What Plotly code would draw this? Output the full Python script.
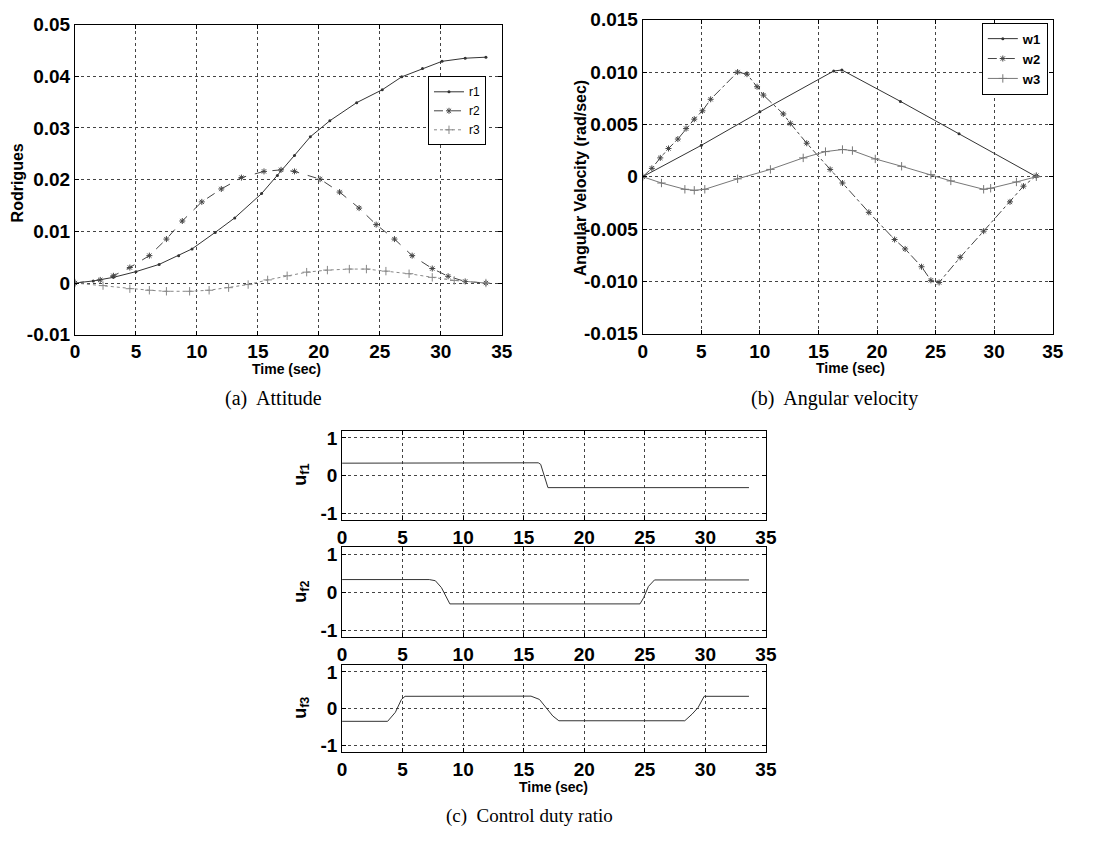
import plotly.graph_objects as go

W, H = 1115, 842

# ---------------- (a) Attitude: Rodrigues parameters ----------------
t_r1 = [0, 1.5, 3.15, 5.0, 6.9, 8.5, 9.6, 11.5, 13.1, 15.3, 16.6, 18.0, 19.3, 20.9,
        23.1, 25.2, 26.8, 28.5, 30.1, 32.0, 33.7]
r1 = [0, 0.0004, 0.0011, 0.0022, 0.0036, 0.0053, 0.0066, 0.0098, 0.0126, 0.0173,
      0.0208, 0.0247, 0.0283, 0.0314, 0.0349, 0.0374, 0.0399, 0.0415, 0.0429,
      0.0435, 0.0437]

t_r2 = [0, 2.07, 3.15, 4.5, 6.1, 7.5, 8.8, 10.4, 12.0, 13.65, 15.5, 16.9, 18.0,
        20.1, 21.7, 23.3, 24.7, 26.2, 27.65, 29.3, 30.6, 32.0, 33.7]
r2 = [0, 0.0006, 0.0014, 0.003, 0.0053, 0.0085, 0.012, 0.0157, 0.0182, 0.0204,
      0.0216, 0.0219, 0.0216, 0.0201, 0.0176, 0.0145, 0.0113, 0.0085, 0.0053,
      0.0028, 0.0013, 0.0003, 0]

t_r3 = [0, 2.3, 4.5, 6.1, 7.5, 9.4, 11.0, 12.6, 14.2, 15.8, 17.4, 19.0, 20.7, 22.5,
        23.9, 25.5, 27.4, 29.3, 31.1, 33.7]
r3 = [0, -0.0005, -0.0011, -0.0014, -0.0016, -0.0016, -0.0014, -0.0009, -0.0003,
      0.0006, 0.0014, 0.0021, 0.0025, 0.0027, 0.0027, 0.0023, 0.0018, 0.0011,
      0.0005, 0]

# ---------------- (b) Angular velocity ----------------
t_w1 = [0, 5.0, 10.0, 16.3, 17.0, 22.0, 27.0, 33.6]
w1 = [0, 0.0030, 0.0062, 0.0101, 0.0102, 0.0072, 0.0041, 0.0]

t_w2 = [0, 0.78, 1.5, 2.2, 3.0, 3.7, 4.4, 5.1, 5.8, 8.1, 8.9, 9.76, 10.3, 12.0,
        12.6, 14.0, 16.0, 17.05, 19.3, 21.5, 22.4, 23.8, 24.6, 25.3, 27.1, 29.1,
        31.35, 32.5, 33.6]
w2 = [0, 0.0008, 0.0018, 0.0027, 0.0036, 0.0046, 0.0055, 0.0063, 0.0074, 0.0100,
      0.0098, 0.0086, 0.0078, 0.0060, 0.0051, 0.0032, 0.0007, -0.0006, -0.0034,
      -0.0060, -0.0069, -0.0086, -0.0099, -0.0101, -0.0077, -0.0052, -0.0024,
      -0.0009, 0.0001]

t_w3 = [0, 1.6, 3.6, 4.4, 5.3, 8.1, 10.9, 13.7, 15.6, 17.05, 17.9, 19.85, 22.1,
        24.6, 26.3, 29.1, 29.7, 31.9, 33.6]
w3 = [0, -0.0006, -0.0012, -0.0013, -0.0012, -0.0002, 0.0007, 0.0018, 0.0024,
      0.0026, 0.0025, 0.0017, 0.0010, 0.0002, -0.0004, -0.0012, -0.0011, -0.0005, 0]

# ---------------- (c) Control duty ratio ----------------
t_uf1 = [0, 16.2, 16.4, 17.0, 33.6]
uf1 = [0.33, 0.34, 0.30, -0.32, -0.32]

t_uf2 = [0, 7.2, 7.7, 8.2, 8.9, 24.6, 24.9, 25.3, 25.8, 33.6]
uf2 = [0.33, 0.33, 0.30, 0.12, -0.31, -0.31, -0.15, 0.15, 0.32, 0.32]

t_uf3 = [0, 3.76, 4.4, 4.9, 5.2, 15.6, 16.3, 16.9, 17.4, 17.9, 28.3, 28.9, 29.4,
         29.9, 33.6]
uf3 = [-0.345, -0.345, -0.1, 0.25, 0.335, 0.34, 0.25, 0.0, -0.2, -0.33, -0.33,
       -0.15, 0.03, 0.335, 0.335]

x_ticks = [0, 5, 10, 15, 20, 25, 30, 35]
a_ticks = [-0.01, 0, 0.01, 0.02, 0.03, 0.04, 0.05]
a_text = ["-0.01", "0", "0.01", "0.02", "0.03", "0.04", "0.05"]
b_ticks = [-0.015, -0.010, -0.005, 0, 0.005, 0.010, 0.015]
b_text = ["-0.015", "-0.010", "-0.005", "0", "0.005", "0.010", "0.015"]
c_ticks = [-1, 0, 1]
c_text = ["-1", "0", "1"]


def px_x(x0, x1):
    return [x0 / W, x1 / W]


def px_y(top, bottom):
    return [1 - bottom / H, 1 - top / H]


SANS = "Liberation Sans, Arial, sans-serif"
SERIF = "Liberation Serif, Times New Roman, serif"


def axis_style(domain, rng, tickvals, ticktext=None, anchor=None):
    d = dict(
        domain=domain, range=rng, tickvals=tickvals,
        showline=True, linecolor="black", linewidth=1, mirror="ticks",
        ticks="inside", ticklen=4, tickcolor="black",
        showgrid=True, gridcolor="#444", griddash="dot", gridwidth=1,
        zeroline=False, anchor=anchor,
        tickfont=dict(family=SANS, size=19, color="black", weight="bold"),
    )
    if ticktext is not None:
        d["ticktext"] = ticktext
    return d


fig = go.Figure()

# (a)
fig.add_trace(go.Scatter(x=t_r1, y=r1, name="r1", mode="lines+markers",
                         line=dict(color="#333", width=1),
                         marker=dict(symbol="circle", size=3, color="#333"),
                         xaxis="x", yaxis="y", legend="legend"))
fig.add_trace(go.Scatter(x=t_r2, y=r2, name="r2", mode="lines+markers",
                         line=dict(color="#444", width=1, dash="dash"),
                         marker=dict(symbol="asterisk-open", size=5,
                                     line=dict(color="#222", width=1)),
                         xaxis="x", yaxis="y", legend="legend"))
fig.add_trace(go.Scatter(x=t_r3, y=r3, name="r3", mode="lines+markers",
                         line=dict(color="#888", width=1, dash="dot"),
                         marker=dict(symbol="cross-thin-open", size=6,
                                     line=dict(color="#777", width=1)),
                         xaxis="x", yaxis="y", legend="legend"))

# (b)
fig.add_trace(go.Scatter(x=t_w1, y=w1, name="w1", mode="lines+markers",
                         line=dict(color="#333", width=1),
                         marker=dict(symbol="circle", size=3, color="#333"),
                         xaxis="x2", yaxis="y2", legend="legend2"))
fig.add_trace(go.Scatter(x=t_w2, y=w2, name="w2", mode="lines+markers",
                         line=dict(color="#444", width=1, dash="dashdot"),
                         marker=dict(symbol="asterisk-open", size=5,
                                     line=dict(color="#222", width=1)),
                         xaxis="x2", yaxis="y2", legend="legend2"))
fig.add_trace(go.Scatter(x=t_w3, y=w3, name="w3", mode="lines+markers",
                         line=dict(color="#777", width=1),
                         marker=dict(symbol="cross-thin-open", size=6,
                                     line=dict(color="#666", width=1)),
                         xaxis="x2", yaxis="y2", legend="legend2"))

# (c)
for t, u, xa, ya in [(t_uf1, uf1, "x3", "y3"), (t_uf2, uf2, "x4", "y4"),
                     (t_uf3, uf3, "x5", "y5")]:
    fig.add_trace(go.Scatter(x=t, y=u, mode="lines", showlegend=False,
                             line=dict(color="#333", width=1),
                             xaxis=xa, yaxis=ya))

# panel boxes in pixels
A = dict(x=px_x(71, 504), y=px_y(15, 333))
B = dict(x=px_x(647, 1063), y=px_y(10, 332))
C1 = dict(x=px_x(342, 772), y=px_y(432, 523))
C2 = dict(x=px_x(342, 772), y=px_y(551, 643))
C3 = dict(x=px_x(342, 772), y=px_y(672, 761))

fig.update_layout(
    width=W, height=H, margin=dict(l=0, r=0, t=0, b=0),
    paper_bgcolor="white", plot_bgcolor="white",
    xaxis=axis_style(A["x"], [0, 35], x_ticks, anchor="y"),
    yaxis=axis_style(A["y"], [-0.01, 0.05], a_ticks, a_text, anchor="x"),
    xaxis2=axis_style(B["x"], [0, 35], x_ticks, anchor="y2"),
    yaxis2=axis_style(B["y"], [-0.015, 0.015], b_ticks, b_text, anchor="x2"),
    xaxis3=axis_style(C1["x"], [0, 35], x_ticks, anchor="y3"),
    yaxis3=axis_style(C1["y"], [-1.18, 1.18], c_ticks, c_text, anchor="x3"),
    xaxis4=axis_style(C2["x"], [0, 35], x_ticks, anchor="y4"),
    yaxis4=axis_style(C2["y"], [-1.18, 1.18], c_ticks, c_text, anchor="x4"),
    xaxis5=axis_style(C3["x"], [0, 35], x_ticks, anchor="y5"),
    yaxis5=axis_style(C3["y"], [-1.18, 1.18], c_ticks, c_text, anchor="x5"),
    legend=dict(x=488 / W, y=1 - 68 / H, xanchor="right", yanchor="top",
                bgcolor="white", bordercolor="black", borderwidth=1,
                font=dict(family=SANS, size=12, color="black"),
                tracegroupgap=0, itemwidth=30),
    legend2=dict(x=1058 / W, y=1 - 13 / H, xanchor="right", yanchor="top",
                 bgcolor="white", bordercolor="black", borderwidth=1,
                 font=dict(family=SANS, size=13, color="black", weight="bold"),
                 tracegroupgap=0, itemwidth=30),
)


def label(text, x, y, size, angle=0, family=SANS, bold=True):
    fig.add_annotation(text=text, x=x / W, y=1 - y / H, xref="paper", yref="paper",
                       showarrow=False, textangle=angle, xanchor="center",
                       yanchor="middle",
                       font=dict(family=family, size=size, color="black",
                                 weight="bold" if bold else "normal"))


# axis titles
label("Rodrigues", 13, 177, 16, angle=-90)
label("Time (sec)", 286, 368, 14)
label("Angular Velocity (rad/sec)", 584, 172, 16, angle=-90)
label("Time (sec)", 858, 367, 14)
label("u<sub>f1</sub>", 300, 477, 18, angle=-90)
label("u<sub>f2</sub>", 300, 597, 18, angle=-90)
label("u<sub>f3</sub>", 300, 716, 18, angle=-90)
label("Time (sec)", 556, 797, 14)

# captions
label("(a)  Attitude", 272, 398, 20, family=SERIF, bold=False)
label("(b)  Angular velocity", 842, 398, 20, family=SERIF, bold=False)
label("(c)  Control duty ratio", 532, 827, 19, family=SERIF, bold=False)

fig.write_html("out.html")
